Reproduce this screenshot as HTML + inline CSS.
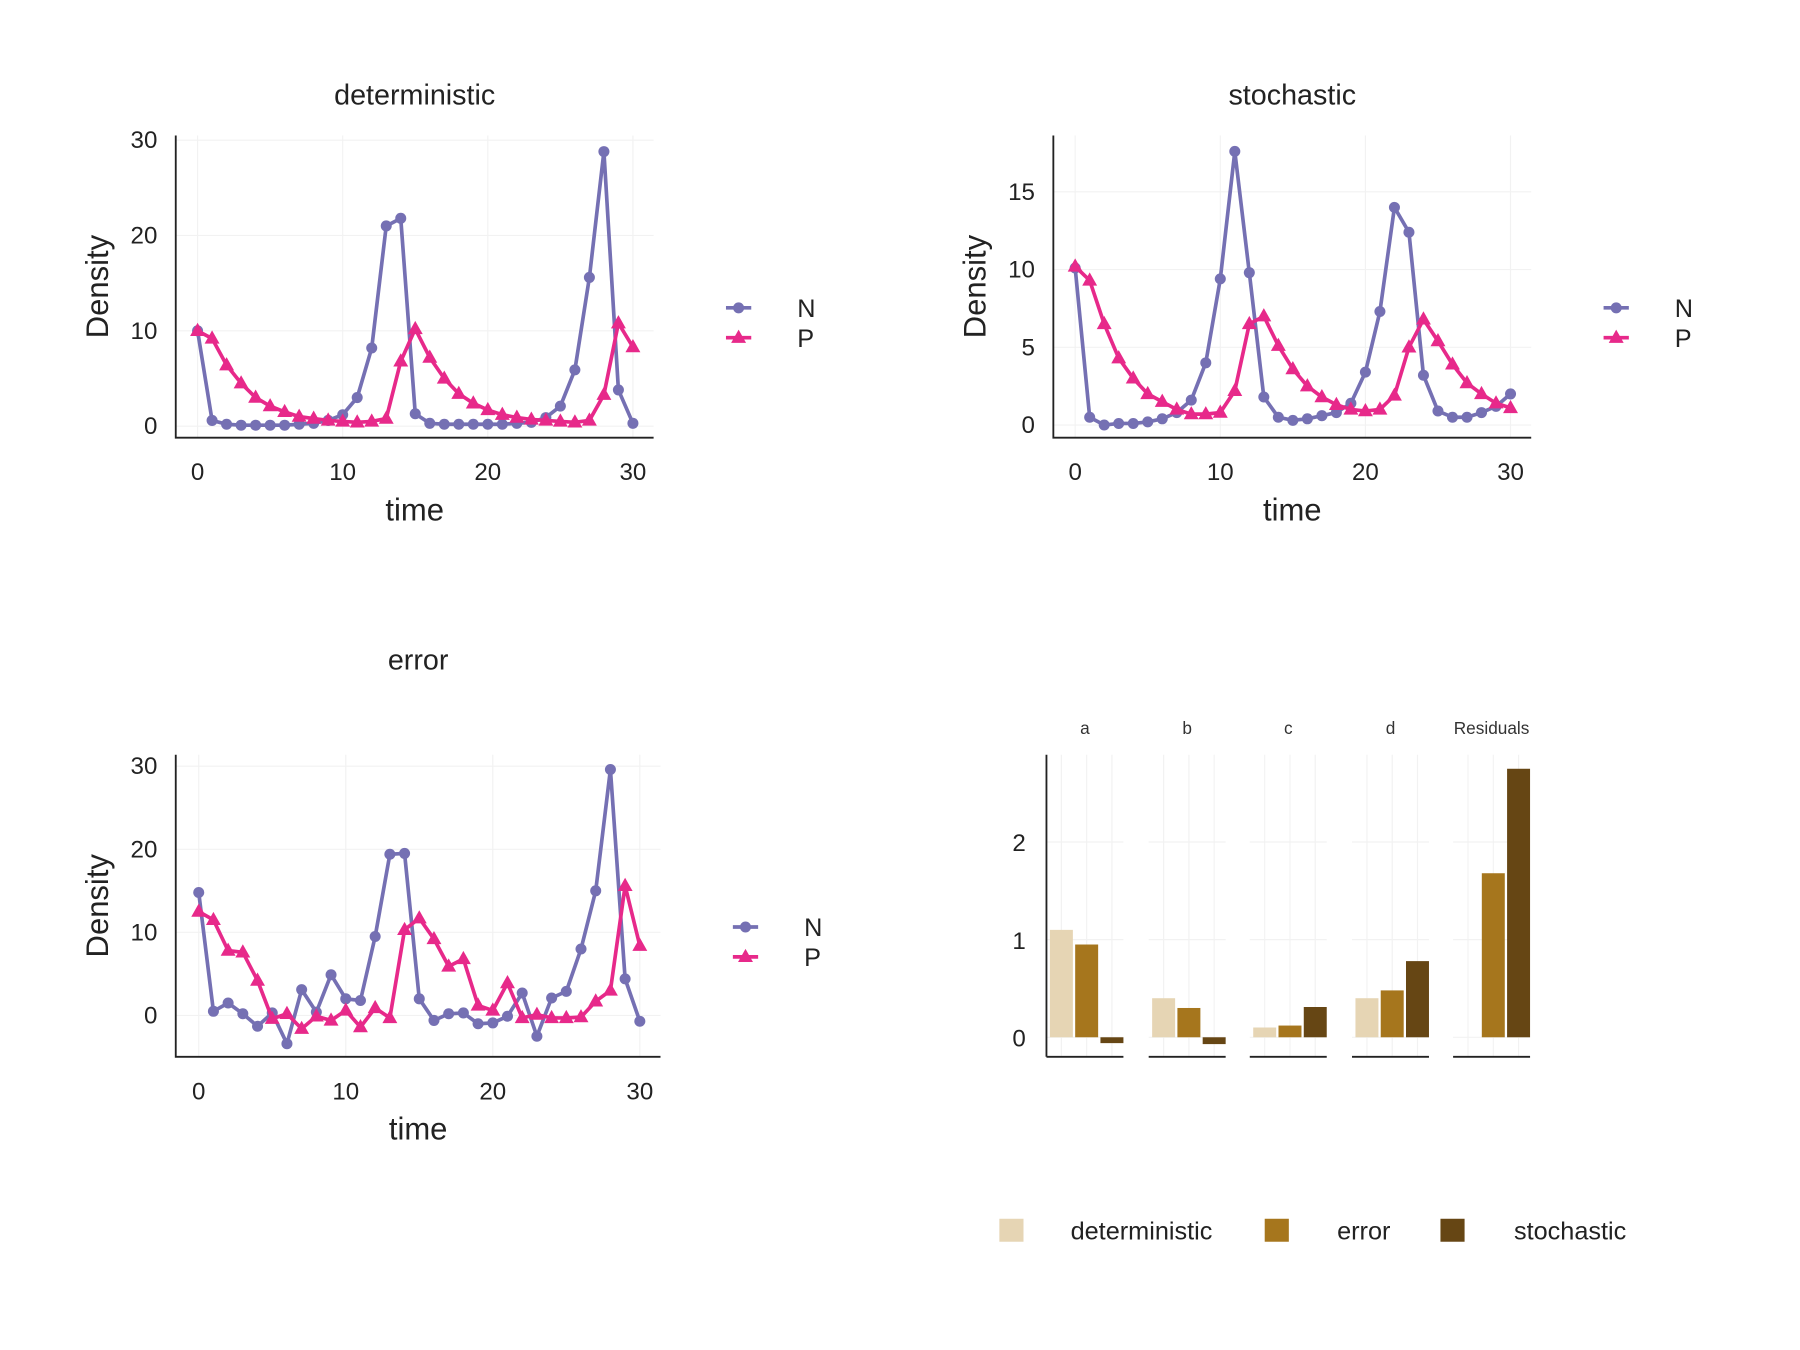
<!DOCTYPE html>
<html><head><meta charset="utf-8"><style>
html,body{margin:0;padding:0;background:#fff;}
svg{display:block;font-family:"Liberation Sans",sans-serif;}
</style></head><body>
<svg id="root" width="1800" height="1350" viewBox="0 0 1567 1175.25" xmlns="http://www.w3.org/2000/svg"></svg>
<script>
const timeVals = Array.from({length:31},(_, i)=>i);
const detN = [10,0.6,0.2,0.1,0.1,0.1,0.1,0.2,0.3,0.6,1.2,3,8.2,21,21.8,1.3,0.3,0.2,0.2,0.2,0.2,0.2,0.3,0.4,0.9,2.1,5.9,15.6,28.8,3.8,0.3];
const detP = [10,9.2,6.4,4.5,3.0,2.1,1.5,1.0,0.8,0.6,0.5,0.4,0.5,0.8,6.8,10.2,7.2,5.0,3.4,2.4,1.7,1.2,0.9,0.7,0.6,0.5,0.4,0.6,3.3,10.8,8.3];
const stoN = [10.1,0.5,0,0.1,0.1,0.2,0.4,0.8,1.6,4,9.4,17.6,9.8,1.8,0.5,0.3,0.4,0.6,0.8,1.4,3.4,7.3,14,12.4,3.2,0.9,0.5,0.5,0.8,1.2,2];
const stoP = [10.2,9.3,6.5,4.3,3,2,1.5,1,0.7,0.7,0.8,2.2,6.5,7,5.1,3.6,2.5,1.8,1.3,1,0.9,1,1.9,5,6.8,5.4,3.9,2.7,2,1.4,1.1];
const errN = [14.8,0.5,1.5,0.2,-1.3,0.3,-3.4,3.1,0.4,4.9,2,1.8,9.5,19.4,19.5,2,-0.6,0.2,0.3,-1,-0.9,-0.1,2.7,-2.5,2.1,2.9,8,15,29.6,4.4,-0.7];
const errP = [12.5,11.5,7.8,7.6,4.2,-0.4,0.2,-1.6,-0.1,-0.6,0.6,-1.4,0.9,-0.3,10.3,11.7,9.2,5.9,6.8,1.2,0.6,3.9,-0.3,0.1,-0.3,-0.3,-0.2,1.7,3,15.6,8.4];
const xTicks = [0,10,20,30];
const yTicksA = [0,10,20,30];
const yTicksB = [0,5,10,15];
const barFacets = ["a","b","c","d","Residuals"];
const barGroups = ["deterministic","error","stochastic"];
const barDet = [1.1,0.4,0.1,0.4,0];
const barErr = [0.95,0.3,0.12,0.48,1.68];
const barSto = [-0.06,-0.07,0.31,0.78,2.75];
const barTicks = [0,1,2];

const NS="http://www.w3.org/2000/svg";
const root=document.getElementById('root');
function el(tag,attrs,parent,text){const e=document.createElementNS(NS,tag);for(const k in attrs)e.setAttribute(k,attrs[k]);if(text!==undefined)e.textContent=text;(parent||root).appendChild(e);return e;}
const colN="#7570b3", colP="#e7298a";
const barCols=["#e6d5b4","#a6761d","#664614"];

function linePanel(name,title,x0,top,bottom,xRight,px0,px30,yt,yVals,N,P,legX,legY,titleY){
  const g=el('g',{});  
  const sx=v=>px0+(px30-px0)*v/30;
  const ys=yVals[0], ye=yVals[yVals.length-1];
  const sy=v=>yt[0]+(yt[1]-yt[0])*(v-ys)/(ye-ys);
  xTicks.forEach(t=>{const l=el('line',{x1:sx(t),x2:sx(t),y1:top,y2:bottom,stroke:'#f2f2f2','stroke-width':1},g);});
  yVals.forEach(t=>{const l=el('line',{x1:x0,x2:xRight,y1:sy(t),y2:sy(t),stroke:'#f2f2f2','stroke-width':1},g);});
  const ax=el('path',{d:`M${x0},${top}V${bottom}H${xRight}`,fill:'none',stroke:'#222','stroke-width':1.6},g);
  
  xTicks.forEach(t=>{const tx=el('text',{x:sx(t),y:bottom+37,'text-anchor':'middle','font-size':21,fill:'#222'},g,t);});
  yVals.forEach(t=>{const tx=el('text',{x:x0-16,y:sy(t)+7,'text-anchor':'end','font-size':21,fill:'#222'},g,t);});
  const cx=(x0+xRight)/2;
  const tt=el('text',{x:cx,y:titleY,'text-anchor':'middle','font-size':25,fill:'#222'},g,title);
  const xt=el('text',{x:cx,y:bottom+72,'text-anchor':'middle','font-size':27,fill:'#222'},g,'time');
  const ymid=(top+bottom)/2;
  const yt2=el('text',{x:x0-59,y:ymid,'text-anchor':'middle','font-size':27,fill:'#222',transform:`rotate(-90 ${x0-59} ${ymid})`},g,'Density');
  function series(vals,col,shape,sname){
    const pts=timeVals.map((t,i)=>[sx(t),sy(vals[i])]);
    const pl=el('polyline',{points:pts.map(p=>p.join(',')).join(' '),fill:'none',stroke:col,'stroke-width':3.2,'stroke-linejoin':'round'},g);
    
    pts.forEach(p=>{let m;
      if(shape==='c') m=el('circle',{cx:p[0],cy:p[1],r:4.8,fill:col},g);
      else m=el('polygon',{points:`${p[0]},${p[1]-7} ${p[0]-6.5},${p[1]+4.5} ${p[0]+6.5},${p[1]+4.5}`,fill:col},g);
      });
  }
  series(N,colN,'c','N'); series(P,colP,'t','P');
  [[colN,'c','N',legY],[colP,'t','P',legY+26]].forEach(([c,s,lab,ly])=>{
    const lg=el('g',{},g);
    el('line',{x1:legX-11,x2:legX+11,y1:ly,y2:ly,stroke:c,'stroke-width':3.2},lg);
    if(s==='c') el('circle',{cx:legX,cy:ly,r:4.8,fill:c},lg); else el('polygon',{points:`${legX},${ly-7} ${legX-6.5},${ly+4.5} ${legX+6.5},${ly+4.5}`,fill:c},lg);
    el('text',{x:legX+51,y:ly+8,'font-size':22,fill:'#222'},lg,lab);
  });
}
linePanel('deterministic','deterministic',153,118,381,569,172,551,[371,122],yTicksA,detN,detP,643,268,91);
linePanel('stochastic','stochastic',917,118,381,1333,936,1315,[370,167],yTicksB,stoN,stoP,1407,268,91);
linePanel('error','error',153,657,920,575,173,557,[884,667],yTicksA,errN,errP,649,807,583);

(function(){
  const g=el('g',{});  
  const sy=v=>903-85*v;
  const facetX=[911,1000,1088,1177,1265], fw=67, top=657, bottom=920;
  const series=[barDet,barErr,barSto];
  barFacets.forEach((f,fi)=>{
    const fx=facetX[fi];
    barTicks.forEach(t=>{const l=el('line',{x1:fx,x2:fx+fw,y1:sy(t),y2:sy(t),stroke:'#f2f2f2'},g);});
    [0,1,2].forEach(k=>{const cx=fx+13+k*22;const l=el('line',{x1:cx,x2:cx,y1:top,y2:bottom,stroke:'#f2f2f2'},g);});
    const st=el('text',{x:fx+fw/2,y:639,'text-anchor':'middle','font-size':15,fill:'#333'},g,f);
    series.forEach((s,k)=>{const v=s[fi]; if(v===0) return;
      const y1=Math.min(sy(v),sy(0)), h=Math.abs(sy(v)-sy(0));
      const r=el('rect',{x:fx+3+k*22,y:y1,width:20,height:Math.max(h,1),fill:barCols[k]},g);
      });
    const bl=el('line',{x1:fx,x2:fx+fw,y1:bottom,y2:bottom,stroke:'#222','stroke-width':1.6},g);
  });
  const ya=el('line',{x1:911,x2:911,y1:top,y2:bottom,stroke:'#222','stroke-width':1.6},g);
  barTicks.forEach(t=>{const tx=el('text',{x:893,y:sy(t)+8,'text-anchor':'end','font-size':21,fill:'#222'},g,t);});
  const legSw=[870,1101,1254], legTx=[932,1164,1318];
  barGroups.forEach((b,k)=>{const lg=el('g',{},g);
    el('rect',{x:legSw[k],y:1061,width:21,height:20,fill:barCols[k]},lg);
    el('text',{x:legTx[k],y:1079,'font-size':22,fill:'#222'},lg,b);});
})();
</script>
</body></html>
